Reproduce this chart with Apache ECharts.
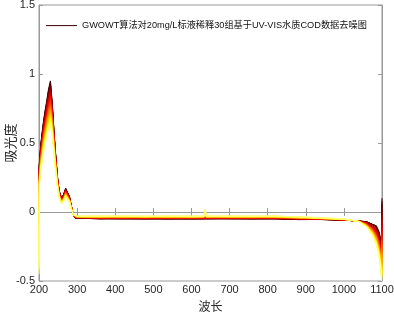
<!DOCTYPE html>
<html><head><meta charset="utf-8">
<script src="https://cdn.jsdelivr.net/npm/echarts@6/dist/echarts.min.js"></script>
<style>html,body{margin:0;padding:0;background:#fff}#c{width:394px;height:313px}</style>
</head><body><div id="c"></div>
<script>
const legendName = 'GWOWT算法对20mg/L标液稀释30组基于UV-VIS水质COD数据去噪图';
const xAxisName = '波长';
const yAxisName = '吸光度';
const wavelengths = [200,201,205,210,215,220,225,230,235,240,245,250,255,260,265,270,275,280,285,290,295,
  300,360,420,480,540,600,633,636,639,700,760,820,880,940,1000,
  1040,1060,1075,1085,1092,1097,1099,1100];
const spectra = [
 [0.30,0.36,0.50,0.62,0.72,0.80,0.89,0.95,0.78,0.56,0.37,0.21,0.13,0.10,0.13,0.17,0.16,0.11,0.04,-0.02,-0.045, -0.050,-0.048,-0.051,-0.049,-0.052,-0.049,-0.050,-0.060,-0.051,-0.048,-0.051,-0.049,-0.055,-0.054,-0.060, -0.065,-0.070,-0.09,-0.10,-0.14,-0.20,-0.28,0.10],
 [0.27,0.35,0.49,0.61,0.71,0.79,0.88,0.94,0.77,0.55,0.37,0.21,0.13,0.10,0.13,0.17,0.16,0.11,0.04,-0.02,-0.044, -0.048,-0.050,-0.047,-0.049,-0.048,-0.051,-0.048,-0.058,-0.047,-0.050,-0.049,-0.047,-0.055,-0.054,-0.060, -0.065,-0.071,-0.09,-0.10,-0.15,-0.21,-0.29,0.08],
 [0.25,0.35,0.49,0.60,0.70,0.78,0.87,0.93,0.76,0.55,0.36,0.21,0.13,0.10,0.13,0.17,0.16,0.11,0.04,-0.02,-0.044, -0.050,-0.049,-0.048,-0.051,-0.047,-0.049,-0.050,-0.057,-0.048,-0.049,-0.048,-0.051,-0.053,-0.055,-0.059, -0.065,-0.073,-0.09,-0.11,-0.15,-0.22,-0.30,0.06],
 [0.22,0.34,0.48,0.60,0.70,0.77,0.86,0.92,0.76,0.54,0.36,0.20,0.13,0.10,0.13,0.16,0.15,0.11,0.04,-0.02,-0.043, -0.048,-0.046,-0.049,-0.047,-0.050,-0.047,-0.048,-0.055,-0.049,-0.046,-0.049,-0.047,-0.053,-0.052,-0.059, -0.066,-0.074,-0.09,-0.11,-0.16,-0.22,-0.30,0.04],
 [0.20,0.34,0.47,0.59,0.69,0.76,0.85,0.91,0.75,0.54,0.35,0.20,0.12,0.09,0.12,0.16,0.15,0.10,0.04,-0.02,-0.042, -0.046,-0.048,-0.045,-0.047,-0.046,-0.049,-0.046,-0.053,-0.045,-0.048,-0.047,-0.045,-0.053,-0.053,-0.059, -0.066,-0.076,-0.10,-0.12,-0.16,-0.23,-0.31,0.02],
 [0.17,0.33,0.47,0.58,0.68,0.76,0.84,0.89,0.74,0.53,0.35,0.20,0.12,0.09,0.12,0.16,0.15,0.10,0.04,-0.02,-0.042, -0.048,-0.047,-0.046,-0.049,-0.045,-0.047,-0.048,-0.051,-0.046,-0.047,-0.046,-0.049,-0.051,-0.053,-0.058, -0.066,-0.077,-0.10,-0.12,-0.17,-0.24,-0.32,0.00],
 [0.14,0.33,0.46,0.57,0.67,0.75,0.83,0.88,0.73,0.53,0.35,0.20,0.12,0.09,0.12,0.16,0.15,0.10,0.04,-0.02,-0.041, -0.046,-0.044,-0.047,-0.045,-0.048,-0.045,-0.046,-0.048,-0.047,-0.044,-0.047,-0.045,-0.051,-0.052,-0.058, -0.066,-0.078,-0.10,-0.13,-0.18,-0.25,-0.33,-0.02],
 [0.12,0.32,0.45,0.57,0.66,0.74,0.82,0.87,0.72,0.52,0.34,0.20,0.12,0.09,0.12,0.16,0.15,0.10,0.04,-0.02,-0.040, -0.044,-0.046,-0.043,-0.045,-0.044,-0.047,-0.044,-0.046,-0.043,-0.046,-0.045,-0.043,-0.051,-0.051,-0.058, -0.066,-0.080,-0.11,-0.13,-0.18,-0.25,-0.33,-0.04],
 [0.09,0.32,0.44,0.56,0.65,0.73,0.81,0.86,0.72,0.52,0.34,0.19,0.12,0.09,0.12,0.15,0.14,0.10,0.03,-0.02,-0.039, -0.045,-0.044,-0.043,-0.046,-0.042,-0.044,-0.045,-0.044,-0.043,-0.044,-0.043,-0.046,-0.048,-0.052,-0.057, -0.066,-0.081,-0.11,-0.14,-0.19,-0.26,-0.34,-0.07],
 [0.07,0.31,0.44,0.55,0.65,0.72,0.80,0.85,0.71,0.51,0.34,0.19,0.11,0.09,0.11,0.15,0.14,0.10,0.03,-0.02,-0.039, -0.044,-0.042,-0.045,-0.043,-0.046,-0.043,-0.044,-0.041,-0.045,-0.042,-0.045,-0.043,-0.049,-0.050,-0.057, -0.067,-0.082,-0.11,-0.14,-0.20,-0.27,-0.35,-0.09],
 [0.04,0.30,0.43,0.54,0.64,0.71,0.79,0.84,0.70,0.50,0.33,0.19,0.11,0.09,0.11,0.15,0.14,0.10,0.03,-0.02,-0.038, -0.042,-0.044,-0.041,-0.043,-0.042,-0.045,-0.042,-0.039,-0.041,-0.044,-0.043,-0.041,-0.049,-0.050,-0.057, -0.067,-0.084,-0.11,-0.15,-0.20,-0.28,-0.36,-0.11],
 [0.02,0.30,0.42,0.54,0.63,0.70,0.78,0.83,0.69,0.50,0.33,0.19,0.11,0.09,0.11,0.15,0.14,0.10,0.03,-0.02,-0.037, -0.043,-0.042,-0.041,-0.044,-0.040,-0.042,-0.043,-0.036,-0.041,-0.042,-0.041,-0.044,-0.046,-0.050,-0.056, -0.067,-0.085,-0.12,-0.15,-0.21,-0.28,-0.36,-0.13],
 [-0.01,0.29,0.42,0.53,0.62,0.69,0.77,0.82,0.68,0.49,0.32,0.19,0.11,0.08,0.11,0.15,0.14,0.09,0.03,-0.02,-0.037, -0.042,-0.040,-0.043,-0.041,-0.044,-0.041,-0.042,-0.033,-0.043,-0.040,-0.043,-0.041,-0.047,-0.049,-0.056, -0.067,-0.087,-0.12,-0.16,-0.21,-0.29,-0.37,-0.15],
 [-0.04,0.29,0.41,0.52,0.61,0.68,0.76,0.81,0.68,0.49,0.32,0.18,0.11,0.08,0.11,0.14,0.13,0.09,0.03,-0.02,-0.036, -0.040,-0.042,-0.039,-0.041,-0.040,-0.043,-0.040,-0.030,-0.039,-0.042,-0.041,-0.039,-0.047,-0.049,-0.056, -0.067,-0.088,-0.12,-0.16,-0.22,-0.30,-0.38,-0.17],
 [-0.06,0.28,0.40,0.51,0.60,0.67,0.75,0.80,0.67,0.48,0.32,0.18,0.11,0.08,0.11,0.14,0.13,0.09,0.03,-0.02,-0.035, -0.041,-0.040,-0.039,-0.042,-0.038,-0.040,-0.041,-0.027,-0.039,-0.040,-0.039,-0.042,-0.044,-0.049,-0.055, -0.067,-0.089,-0.13,-0.17,-0.23,-0.31,-0.39,-0.19],
 [-0.09,0.28,0.40,0.51,0.60,0.67,0.74,0.78,0.66,0.48,0.31,0.18,0.10,0.08,0.10,0.14,0.13,0.09,0.03,-0.02,-0.035, -0.040,-0.038,-0.041,-0.039,-0.042,-0.039,-0.040,-0.023,-0.041,-0.038,-0.041,-0.039,-0.045,-0.048,-0.055, -0.068,-0.091,-0.13,-0.17,-0.23,-0.31,-0.39,-0.21],
 [-0.11,0.27,0.39,0.50,0.59,0.66,0.73,0.77,0.65,0.47,0.31,0.18,0.10,0.08,0.10,0.14,0.13,0.09,0.03,-0.02,-0.034, -0.038,-0.040,-0.037,-0.039,-0.038,-0.041,-0.038,-0.020,-0.037,-0.040,-0.039,-0.037,-0.044,-0.048,-0.055, -0.068,-0.092,-0.13,-0.18,-0.24,-0.32,-0.40,-0.23],
 [-0.14,0.27,0.38,0.49,0.58,0.65,0.72,0.76,0.65,0.47,0.31,0.17,0.10,0.08,0.10,0.13,0.12,0.09,0.03,-0.02,-0.033, -0.039,-0.038,-0.037,-0.040,-0.036,-0.038,-0.039,-0.017,-0.037,-0.038,-0.037,-0.040,-0.042,-0.048,-0.054, -0.068,-0.093,-0.14,-0.18,-0.25,-0.33,-0.41,-0.25],
 [-0.17,0.26,0.38,0.48,0.57,0.64,0.71,0.75,0.64,0.46,0.30,0.17,0.10,0.08,0.10,0.13,0.12,0.09,0.03,-0.02,-0.033, -0.038,-0.036,-0.039,-0.037,-0.040,-0.037,-0.038,-0.014,-0.039,-0.036,-0.039,-0.037,-0.043,-0.047,-0.054, -0.068,-0.095,-0.14,-0.19,-0.25,-0.34,-0.42,-0.27],
 [-0.19,0.26,0.37,0.48,0.56,0.63,0.70,0.74,0.63,0.46,0.30,0.17,0.10,0.07,0.10,0.13,0.12,0.08,0.03,-0.02,-0.032, -0.036,-0.038,-0.035,-0.037,-0.036,-0.039,-0.036,-0.011,-0.035,-0.038,-0.037,-0.035,-0.042,-0.047,-0.054, -0.068,-0.096,-0.14,-0.19,-0.26,-0.34,-0.42,-0.29],
 [-0.22,0.25,0.36,0.47,0.55,0.62,0.69,0.73,0.62,0.45,0.29,0.17,0.10,0.07,0.10,0.13,0.12,0.08,0.03,-0.02,-0.031, -0.037,-0.036,-0.035,-0.038,-0.034,-0.036,-0.037,-0.008,-0.035,-0.036,-0.035,-0.038,-0.040,-0.047,-0.053, -0.068,-0.098,-0.14,-0.20,-0.26,-0.35,-0.43,-0.31],
 [-0.24,0.24,0.36,0.46,0.55,0.61,0.68,0.72,0.61,0.44,0.29,0.17,0.09,0.07,0.09,0.13,0.12,0.08,0.03,-0.02,-0.031, -0.036,-0.034,-0.037,-0.035,-0.038,-0.035,-0.036,-0.005,-0.037,-0.034,-0.037,-0.035,-0.041,-0.046,-0.053, -0.069,-0.099,-0.15,-0.20,-0.27,-0.36,-0.44,-0.33],
 [-0.27,0.24,0.35,0.45,0.54,0.60,0.67,0.71,0.61,0.44,0.29,0.16,0.09,0.07,0.09,0.12,0.11,0.08,0.03,-0.02,-0.030, -0.034,-0.036,-0.033,-0.035,-0.034,-0.037,-0.034,-0.002,-0.033,-0.036,-0.035,-0.033,-0.040,-0.046,-0.053, -0.069,-0.100,-0.15,-0.21,-0.28,-0.37,-0.45,-0.36],
 [-0.29,0.23,0.34,0.45,0.53,0.59,0.66,0.70,0.60,0.43,0.28,0.16,0.09,0.07,0.09,0.12,0.11,0.08,0.02,-0.02,-0.029, -0.035,-0.034,-0.033,-0.036,-0.032,-0.034,-0.035,0.001,-0.033,-0.034,-0.033,-0.036,-0.038,-0.046,-0.052, -0.069,-0.102,-0.15,-0.21,-0.28,-0.37,-0.45,-0.38],
 [-0.32,0.23,0.33,0.44,0.52,0.58,0.65,0.69,0.59,0.43,0.28,0.16,0.09,0.07,0.09,0.12,0.11,0.08,0.02,-0.02,-0.028, -0.033,-0.031,-0.034,-0.032,-0.035,-0.032,-0.033,0.004,-0.034,-0.031,-0.034,-0.032,-0.038,-0.045,-0.052, -0.069,-0.103,-0.16,-0.22,-0.29,-0.38,-0.46,-0.40],
 [-0.35,0.22,0.33,0.43,0.51,0.58,0.64,0.67,0.58,0.42,0.28,0.16,0.09,0.07,0.09,0.12,0.11,0.08,0.02,-0.02,-0.028, -0.032,-0.034,-0.031,-0.033,-0.032,-0.035,-0.032,0.008,-0.031,-0.034,-0.033,-0.031,-0.038,-0.045,-0.052, -0.069,-0.104,-0.16,-0.22,-0.30,-0.39,-0.47,-0.42],
 [-0.37,0.22,0.32,0.42,0.50,0.57,0.63,0.66,0.57,0.42,0.27,0.16,0.09,0.06,0.09,0.12,0.11,0.07,0.02,-0.02,-0.027, -0.033,-0.032,-0.031,-0.034,-0.030,-0.032,-0.033,0.011,-0.031,-0.032,-0.031,-0.034,-0.036,-0.045,-0.051, -0.069,-0.106,-0.16,-0.23,-0.30,-0.40,-0.48,-0.44],
 [-0.40,0.21,0.31,0.42,0.50,0.56,0.62,0.65,0.57,0.41,0.27,0.15,0.08,0.06,0.08,0.11,0.10,0.07,0.02,-0.02,-0.026, -0.031,-0.029,-0.032,-0.030,-0.033,-0.030,-0.031,0.014,-0.032,-0.029,-0.032,-0.030,-0.036,-0.044,-0.051, -0.070,-0.107,-0.16,-0.23,-0.31,-0.40,-0.48,-0.46],
 [-0.42,0.21,0.31,0.41,0.49,0.55,0.61,0.64,0.56,0.41,0.26,0.15,0.08,0.06,0.08,0.11,0.10,0.07,0.02,-0.02,-0.026, -0.030,-0.032,-0.029,-0.031,-0.030,-0.033,-0.030,0.017,-0.029,-0.032,-0.031,-0.029,-0.036,-0.044,-0.051, -0.070,-0.109,-0.17,-0.24,-0.31,-0.41,-0.49,-0.48],
 [-0.45,0.20,0.30,0.40,0.48,0.54,0.60,0.63,0.55,0.40,0.26,0.15,0.08,0.06,0.08,0.11,0.10,0.07,0.02,-0.02,-0.025, -0.031,-0.030,-0.029,-0.032,-0.028,-0.030,-0.031,0.020,-0.029,-0.030,-0.029,-0.032,-0.034,-0.040,-0.050, -0.070,-0.110,-0.17,-0.24,-0.32,-0.42,-0.50,-0.50]
];

// MATLAB "hot" colormap (style only)
function hot(i, m) {
  const n = Math.floor(3 / 8 * m);
  const r = Math.min(i / n, 1);
  const g = Math.min(Math.max((i - n) / n, 0), 1);
  const b = Math.max((i - 2 * n) / (m - 2 * n), 0);
  const h = v => Math.round(Math.min(v, 1) * 255).toString(16).padStart(2, '0');
  return '#' + h(r) + h(g) + h(b);
}

const chart = echarts.init(document.getElementById('c'), null, {renderer: 'canvas'});
const axisCol = '#999999';
const labelCol = '#262626';
const series = spectra.map((vals, k) => ({
  name: legendName,
  type: 'line',
  showSymbol: false,
  symbol: 'none',
  animation: false,
  silent: true,
  lineStyle: {width: 1},
  color: hot(3 + Math.round(k * 32 / 29), 40),
  data: wavelengths.map((w, j) => [w, vals[j]])
}));

chart.setOption({
  backgroundColor: '#fff',
  animation: false,
  grid: {left: 39, right: 12, top: 5, bottom: 32, containLabel: false, outerBoundsMode: 'none',
         show: true, borderColor: axisCol, borderWidth: 1, backgroundColor: 'transparent'},
  legend: {
    data: [legendName],
    left: 41, top: 16,
    icon: 'rect', itemWidth: 31, itemHeight: 1, itemGap: 4,
    textStyle: {fontSize: 9.2, color: '#111', fontFamily: 'Liberation Sans, Arial, Noto Sans CJK SC, sans-serif', padding: [0,0,0,0]},
    selectedMode: false
  },
  xAxis: [{
    type: 'value', min: 200, max: 1100, interval: 100, position: 'bottom',
    name: xAxisName, nameLocation: 'middle', nameGap: 19, nameMoveOverlap: false,
    nameTextStyle: {fontSize: 12, color: labelCol, fontFamily: 'Noto Sans CJK SC, sans-serif'},
    axisLine: {show: true, lineStyle: {color: axisCol}},
    axisTick: {show: true, inside: true, length: 4, lineStyle: {color: axisCol}},
    axisLabel: {fontSize: 11, color: labelCol, margin: 3, fontFamily: 'Liberation Sans, Arial, sans-serif',
                formatter: v => String(v)},
    splitLine: {show: false}
  }, {
    type: 'value', min: 200, max: 1100, interval: 100, position: 'top',
    axisLine: {show: true, lineStyle: {color: axisCol}},
    axisTick: {show: true, inside: true, length: 4, lineStyle: {color: axisCol}},
    axisLabel: {show: false}, splitLine: {show: false}
  }],
  yAxis: [{
    type: 'value', min: -0.5, max: 1.5, interval: 0.5, position: 'left',
    name: yAxisName, nameLocation: 'middle', nameGap: 22, nameRotate: 90, nameMoveOverlap: false,
    nameTextStyle: {fontSize: 13, color: labelCol, fontFamily: 'Noto Sans CJK SC, sans-serif'},
    axisLine: {show: true, lineStyle: {color: axisCol}},
    axisTick: {show: true, inside: true, length: 4, lineStyle: {color: axisCol}},
    axisLabel: {fontSize: 11, color: labelCol, margin: 4, fontFamily: 'Liberation Sans, Arial, sans-serif',
                formatter: v => String(v)},
    splitLine: {show: false}
  }, {
    type: 'value', min: -0.5, max: 1.5, interval: 0.5, position: 'right',
    axisLine: {show: true, lineStyle: {color: axisCol}},
    axisTick: {show: true, inside: true, length: 4, lineStyle: {color: axisCol}},
    axisLabel: {show: false}, splitLine: {show: false}
  }],
  series: series
});
</script></body></html>
